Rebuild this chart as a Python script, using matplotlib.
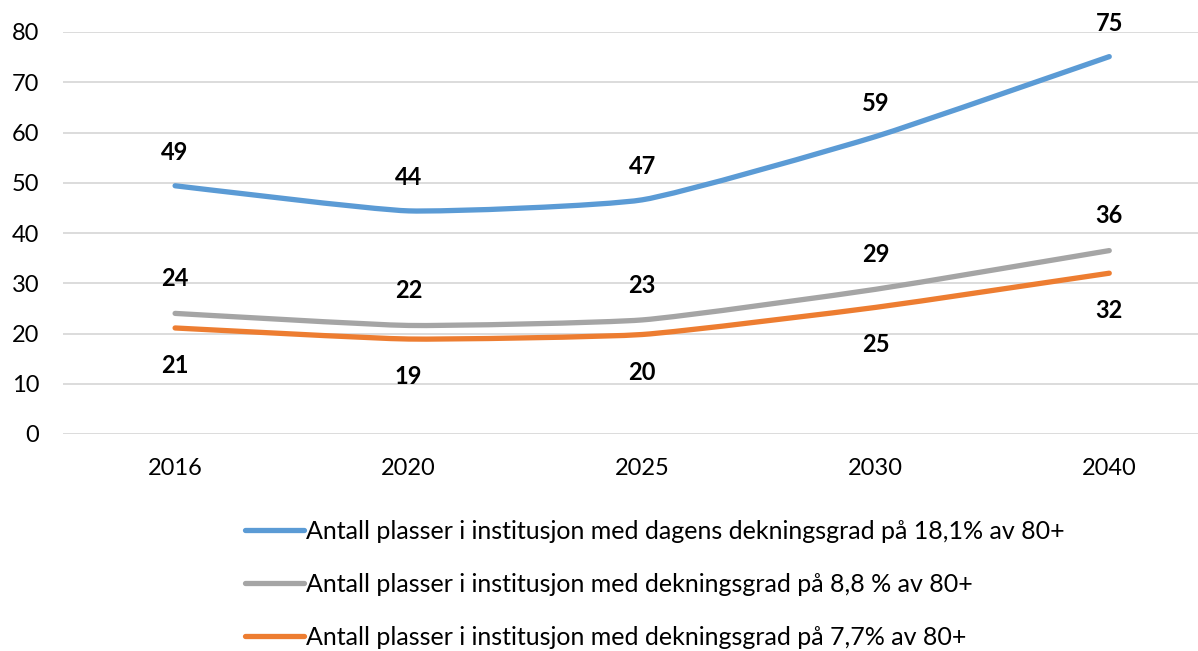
import matplotlib
matplotlib.use("Agg")
import matplotlib.pyplot as plt
from matplotlib.path import Path
from matplotlib.patches import PathPatch
from matplotlib.lines import Line2D

categories = ["2016", "2020", "2025", "2030", "2040"]
blue_vals = [49.4, 44.4, 46.6, 59.2, 75.1]
gray_vals = [24.0, 21.6, 22.7, 28.8, 36.5]
orange_vals = [21.1, 18.9, 19.8, 25.2, 32.0]
blue_labels = ["49", "44", "47", "59", "75"]
gray_labels = ["24", "22", "23", "29", "36"]
orange_labels = ["21", "19", "20", "25", "32"]
series_names = [
    "Antall plasser i institusjon med dagens dekningsgrad på 18,1% av 80+",
    "Antall plasser i institusjon med dekningsgrad på 8,8 % av 80+",
    "Antall plasser i institusjon med dekningsgrad på 7,7% av 80+",
]
y_ticks = [0, 10, 20, 30, 40, 50, 60, 70, 80]

colors = ["#5B9BD5", "#A5A5A5", "#ED7D31"]
FONT = "Lato"
plt.rcParams["font.family"] = [FONT, "DejaVu Sans"]

W, H = 1198, 651
fig = plt.figure(figsize=(W / 100, H / 100), dpi=100)
ax = fig.add_axes([63 / W, (651 - 434) / H, 1 - 63 / W, (434 - 32) / H])

x = list(range(len(categories)))
SMOOTH = 0.08


def smooth_path(xs, ys):
    n = len(xs)
    verts = [(xs[0], ys[0])]
    codes = [Path.MOVETO]
    for i in range(n - 1):
        x0, y0 = (xs[i - 1], ys[i - 1]) if i > 0 else (xs[i], ys[i])
        x1, y1 = xs[i], ys[i]
        x2, y2 = xs[i + 1], ys[i + 1]
        x3, y3 = (xs[i + 2], ys[i + 2]) if i + 2 < n else (xs[i + 1], ys[i + 1])
        c1 = (x1 + (x2 - x0) * SMOOTH, y1 + (y2 - y0) * SMOOTH)
        c2 = (x2 - (x3 - x1) * SMOOTH, y2 - (y3 - y1) * SMOOTH)
        verts += [c1, c2, (x2, y2)]
        codes += [Path.CURVE4] * 3
    return Path(verts, codes)


lw = 3.8
for vals, col in zip([blue_vals, gray_vals, orange_vals], colors):
    patch = PathPatch(smooth_path(x, vals), facecolor="none", edgecolor=col,
                      linewidth=lw, capstyle="round", joinstyle="round", zorder=3)
    ax.add_patch(patch)

for vals, labs, off in [(blue_vals, blue_labels, 24), (gray_vals, gray_labels, 25),
                        (orange_vals, orange_labels, -27)]:
    for xi, v, lab in zip(x, vals, labs):
        ax.annotate(lab, (xi, v), xytext=(0, off), textcoords="offset points",
                    ha="center", va="center", fontsize=17, fontweight="bold",
                    color="black", zorder=4)

ax.set_xlim(-0.48, 4.38)
ax.set_ylim(0, 80)
ax.set_yticks(y_ticks)
ax.set_xticks(x)
ax.set_xticklabels(categories)
ax.tick_params(axis="both", length=0, labelsize=17, colors="black")
ax.tick_params(axis="y", pad=17)
ax.tick_params(axis="x", pad=17)
ax.grid(axis="y", color="#D9D9D9", linewidth=1.3)
ax.set_axisbelow(True)
for s in ax.spines.values():
    s.set_visible(False)

handles = [Line2D([], [], color=c, linewidth=lw, solid_capstyle="round") for c in colors]
fig.legend(handles, series_names, loc="upper left",
           bbox_to_anchor=(245 / W, (651 - 520) / H), frameon=False,
           fontsize=18, handlelength=2.35, handletextpad=0.1, labelspacing=1.2,
           borderpad=0, borderaxespad=0)

fig.savefig("out.png", dpi=100, facecolor="white")
